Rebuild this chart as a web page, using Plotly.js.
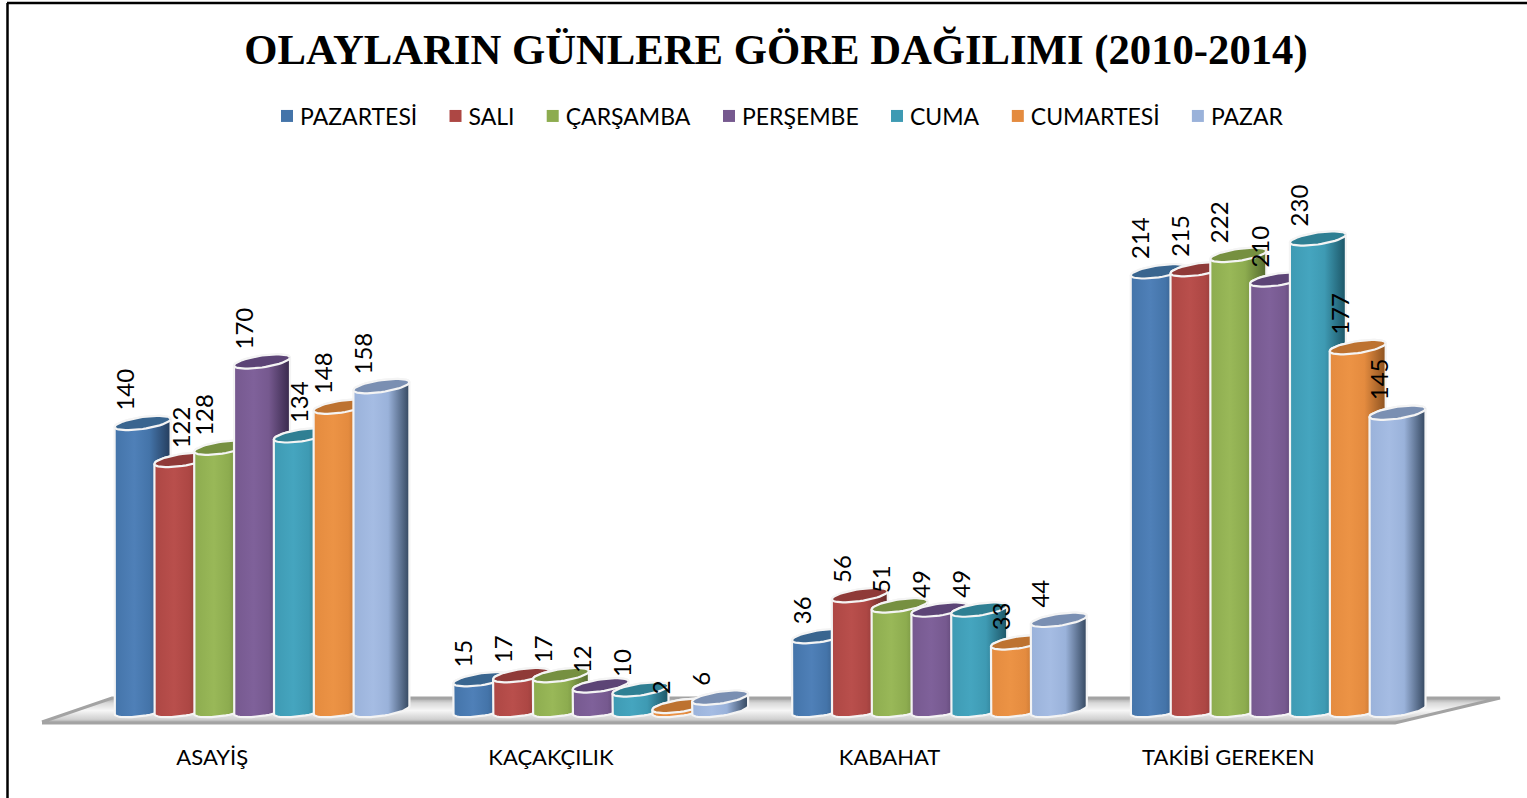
<!DOCTYPE html>
<html><head><meta charset="utf-8">
<script src="https://cdn.plot.ly/plotly-3.0.1.min.js"></script>
<style>html,body{margin:0;padding:0;background:#fff}#c{width:1527px;height:798px}</style>
</head><body><div id="c"></div>
<script>
const categories = ["ASAYİŞ", "KAÇAKÇILIK", "KABAHAT", "TAKİBİ GEREKEN"];
const seriesNames = ["PAZARTESİ", "SALI", "ÇARŞAMBA", "PERŞEMBE", "CUMA", "CUMARTESİ", "PAZAR"];
const pazartesi = [140, 15, 36, 214];
const sali = [122, 17, 56, 215];
const carsamba = [128, 17, 51, 222];
const persembe = [170, 12, 49, 210];
const cuma = [134, 10, 49, 230];
const cumartesi = [148, 2, 33, 177];
const pazar = [158, 6, 44, 145];
const seriesValues = [pazartesi, sali, carsamba, persembe, cuma, cumartesi, pazar];

// styles
const base = ["#4474a9", "#ad4744", "#8dac4f", "#76598f", "#3e9ab3", "#e48b3f", "#9ab2da"];
const light = ["#4f80b8", "#b94f4c", "#99b858", "#7f619a", "#45a5bf", "#ec9345", "#a5bce3"];
const dark = ["#243c5c", "#642a29", "#546a2e", "#38294c", "#1c5566", "#8c5220", "#34475f"];
const cap = ["#39658f", "#8f3a38", "#769040", "#5c4476", "#2f7f93", "#bd7230", "#7a8fb2"];

// layout geometry (pixels)
const W = 1527, H = 798, L = 20, R = 1510, T = 150, B = 742;
const groupPitch = 338.7, barStep = 39.8, barWidth = 56, firstGroupCentre = 262;
const zeroPx = 710, pxPerUnit = 2.05, capB = 6, capTilt = 4;
const xUnit = groupPitch;
const xRange = [(L - firstGroupCentre) / xUnit, (R - firstGroupCentre) / xUnit];
const yRange = [-(B - zeroPx) / pxPerUnit, (zeroPx - T) / pxPerUnit];
const pxX = p => (p - firstGroupCentre) / xUnit;
const pxY = p => (zeroPx - p) / pxPerUnit;
const labelShift = {"0,1": 17, "0,4": 15, "3,4": 0};   // manual label placements of the original

const traces = [];

// floor
const floorPts = [[42,722],[112,698],[1500,698],[1395,723],[42,723]];
traces.push({type:"scatter", mode:"lines", x:floorPts.map(p=>pxX(p[0])), y:floorPts.map(p=>pxY(p[1])),
  fill:"toself", line:{color:"#a3a3a3", width:3},
  fillgradient:{type:"vertical", colorscale:[[0,"#a0a0a0"],[0.15,"#d0d0d0"],[0.5,"#f6f6f6"],[0.8,"#d8d8d8"],[1,"#a4a4a4"]]},
  showlegend:false, hoverinfo:"skip", cliponaxis:false});

// real bars (legend + values), slim so the cylinder overlays cover them
const xPos = (k,i) => i + (k-3)*barStep/xUnit;
seriesNames.forEach((name,k) => {
  traces.push({type:"bar", name, x:categories.map((c,i)=>xPos(k,i)), y:seriesValues[k],
    width:0.8*barWidth/xUnit, marker:{color:base[k], line:{width:0}}, hoverinfo:"y+name"});
});

// cylinders
function cylinder(k,i,v){
  const cx = xPos(k,i), a = barWidth/2;
  const dx = p => cx + p/xUnit;
  const top = v, n = 24, xs = [], ys = [];
  const add = (t,val) => {
    xs.push(dx(a*Math.cos(t)));
    ys.push(val + (capTilt*Math.cos(t) - capB*Math.sin(t))/pxPerUnit);
  };
  add(Math.PI, top);
  for(let j=0;j<=n;j++) add(Math.PI - Math.PI*j/n, 0);
  add(0, top);
  for(let j=0;j<=n;j++) add(-Math.PI*j/n, top);
  const cxs = [], cys = [];
  for(let j=0;j<=2*n;j++){
    const t = Math.PI*j/n;
    cxs.push(dx(a*Math.cos(t)));
    cys.push(top + (capTilt*Math.cos(t) - capB*Math.sin(t))/pxPerUnit);
  }
  traces.push({type:"scatter", mode:"lines", x:xs, y:ys, fill:"toself",
    line:{color:"#f4f4f4", width:2.2}, showlegend:false, hoverinfo:"skip", cliponaxis:false,
    fillgradient:{type:"horizontal", colorscale:[[0,base[k]],[0.35,light[k]],[0.62,base[k]],[1,dark[k]]]}});
  traces.push({type:"scatter", mode:"lines", x:cxs, y:cys, fill:"toself", fillcolor:cap[k],
    line:{color:"#f4f4f4", width:2.2}, showlegend:false, hoverinfo:"skip", cliponaxis:false});
}
categories.forEach((c,i) => seriesNames.forEach((n,k) => cylinder(k,i,seriesValues[k][i])));

// value labels
const annotations = [];
categories.forEach((c,i) => seriesNames.forEach((n,k) => {
  const key = i+","+k, v = seriesValues[k][i];
  annotations.push({x:xPos(k,i), y:v, xref:"x", yref:"y", text:String(v), showarrow:false,
    textangle:-90, xanchor:"center", yanchor:"bottom", yshift:10, xshift:-19 + (labelShift[key]||0),
    font:{family:"Lato, sans-serif", size:24, color:"#000"}});
}));

const paperX = p => (p-L)/(R-L), paperY = p => (B-p)/(B-T);
const layout = {
  width:W, height:H, autosize:false, paper_bgcolor:"#fff", plot_bgcolor:"rgba(0,0,0,0)",
  margin:{l:L, r:W-R, t:T, b:H-B, pad:0},
  barmode:"overlay", showlegend:true,
  title:{text:"<b>OLAYLARIN GÜNLERE GÖRE DAĞILIMI (2010-2014)</b>", x:776/W, xanchor:"center", y:1-49/H, yanchor:"middle",
    font:{family:"Liberation Serif, serif", size:42.7, color:"#000"}},
  legend:{orientation:"h", x:paperX(267), xanchor:"left", y:paperY(116), yanchor:"middle",
    font:{family:"Lato, sans-serif", size:23, color:"#000"}, itemwidth:30,
    traceorder:"normal", bgcolor:"rgba(0,0,0,0)"},
  xaxis:{range:xRange, fixedrange:true, showgrid:false, zeroline:false, showline:false, ticks:"",
    tickmode:"array", tickvals:categories.map((c,i)=>i-0.147), ticktext:categories,
    tickfont:{family:"Lato, sans-serif", size:22, color:"#000"}},
  yaxis:{range:yRange, fixedrange:true, visible:false},
  annotations,
  shapes:[
    {type:"line", xref:"paper", yref:"paper", x0:paperX(7.5), x1:paperX(7.5), y0:paperY(3), y1:paperY(798), line:{color:"#000", width:2.5}},
    {type:"line", xref:"paper", yref:"paper", x0:paperX(7), x1:paperX(1527), y0:paperY(3), y1:paperY(3), line:{color:"#000", width:2.5}}
  ]
};
Plotly.newPlot("c", traces, layout, {displayModeBar:false, responsive:false}).then(gd => {
  // tighten swatch-to-text gap and widen entry spacing of the native legend
  const sb = gd.querySelector(".legend .scrollbox");
  if (sb) sb.removeAttribute("clip-path");
  gd.querySelectorAll(".legend .traces").forEach((g,i) => {
    const m = /translate\(([-\d.]+)[ ,]+([-\d.]+)\)/.exec(g.getAttribute("transform") || "");
    if (m) g.setAttribute("transform", "translate(" + (parseFloat(m[1]) + 6.2*i) + "," + m[2] + ")");
    const t = g.querySelector(".legendtext");
    if (t) t.setAttribute("x", parseFloat(t.getAttribute("x")) - 7);
    const tt = g.querySelectorAll(".legendtext tspan");
    tt.forEach(s => { if (s.getAttribute("x")) s.setAttribute("x", parseFloat(s.getAttribute("x")) - 7); });
  });
});
</script></body></html>
